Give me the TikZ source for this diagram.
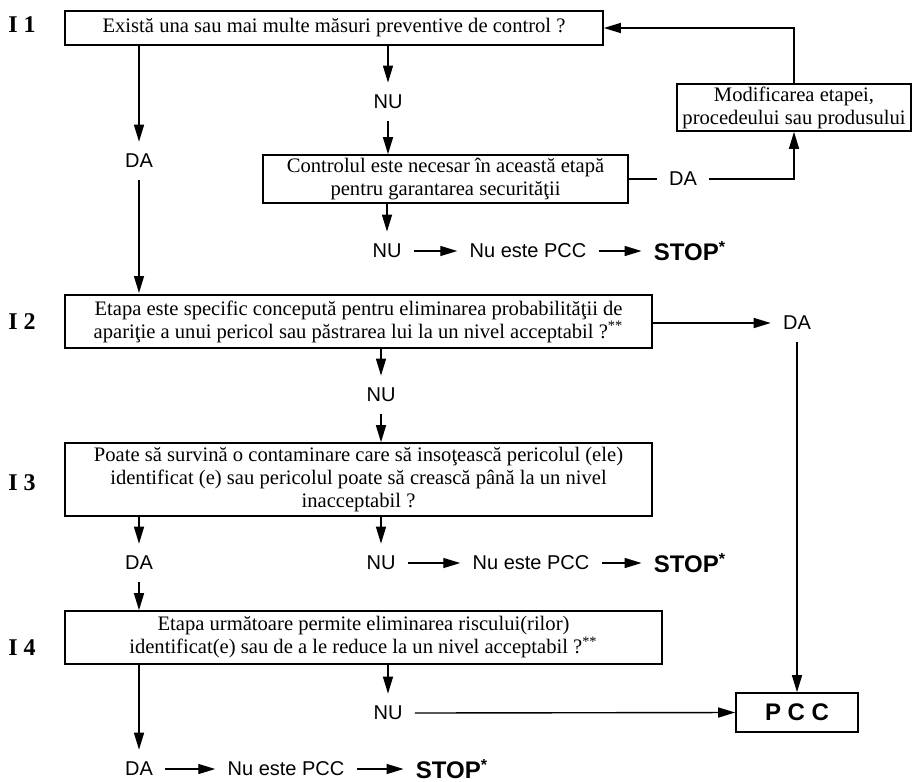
\documentclass[tikz,border=0pt]{standalone}
\usepackage{fontspec}
\setmainfont{Liberation Serif}
\setsansfont{Liberation Sans}
\usepackage{tikz}
\usetikzlibrary{arrows.meta,positioning,calc}

\begin{document}
\begin{tikzpicture}[x=0.5pt, y=-0.5pt,
    qbox/.style={draw, line width=0.8pt, fill=white, align=center, inner sep=1pt,
                 font=\fontsize{10.3}{11.5}\selectfont},
    lbl/.style={font=\sffamily\fontsize{10}{12}\selectfont, inner sep=6pt},
    stopl/.style={font=\sffamily\bfseries\fontsize{12}{14}\selectfont, inner sep=6pt},
    step label/.style={font=\bfseries\fontsize{12}{14}\selectfont},
    arr/.style={-{Triangle[length=8.5pt,width=5pt]}, line width=0.7pt},
    ln/.style={line width=0.7pt}]
    \useasboundingbox (0,0) rectangle (913,781);

    % Step labels
    \node[step label] (i1) at (22,25) {I 1};
    \node[step label] (i2) at (22,322) {I 2};
    \node[step label] (i3) at (22,483) {I 3};
    \node[step label] (i4) at (22,648) {I 4};

    % Question I1
    \node[qbox, minimum width=269pt, minimum height=17pt] (q1) at (334,28)
        {Există una sau mai multe măsuri preventive de control ?};
    \node[lbl] (da1) at (139,161) {DA};
    \node[lbl] (nu1) at (388,102) {NU};
    \node[qbox, minimum width=182.5pt, minimum height=24pt] (q1b) at (445.5,179)
        {Controlul este necesar în această etapă\\pentru garantarea securităţii};
    \node[qbox, minimum width=117pt, minimum height=23.5pt] (mod) at (794,107.5)
        {Modificarea etapei,\\procedeului sau produsului};
    \node[lbl] (da1b) at (683,179) {DA};
    \node[lbl] (nu1b) at (387,251) {NU};
    \node[lbl] (nep1) at (528,251) {Nu este PCC};
    \node[stopl] (stop1) at (690,251) {STOP\textsuperscript{*}};

    \draw[arr] (q1.south -| da1) -- (da1.north);
    \draw[arr] (da1.south) -- (da1.south |- 0,293);
    \draw[arr] (q1.south -| nu1) -- (nu1.north);
    \draw[arr] (nu1.south) -- (nu1.south |- q1b.north);
    \draw[ln] (q1b.east) -- (da1b.west);
    \draw[arr] (da1b.east) -| (mod.south);
    \draw[arr] (mod.north) |- (q1.east);
    \draw[arr] (q1b.south -| nu1b) -- (nu1b.north);
    \draw[arr] (nu1b) -- (nep1);
    \draw[arr] (nep1) -- (stop1);

    % Question I2
    \node[qbox, minimum width=293.5pt, minimum height=26.5pt] (q2) at (358.5,321.5)
        {Etapa este specific concepută pentru eliminarea probabilităţii de\\
         apariţie a unui pericol sau păstrarea lui la un nivel acceptabil ?\textsuperscript{**}};
    \node[lbl] (da2) at (797,323) {DA};
    \node[lbl] (nu2) at (381,395) {NU};

    \draw[arr] (q2.east |- da2) -- (da2.west);
    \draw[arr] (q2.south -| nu2) -- (nu2.north);

    % Question I3
    \node[qbox, minimum width=293.5pt, minimum height=36.5pt] (q3) at (358.5,479.5)
        {Poate să survină o contaminare care să insoţească pericolul (ele)\\
         identificat (e) sau pericolul poate să crească până la un nivel\\
         inacceptabil ?};
    \node[lbl] (da3) at (139,563) {DA};
    \node[lbl] (nu3) at (381,563) {NU};
    \node[lbl] (nep3) at (531,563) {Nu este PCC};
    \node[stopl] (stop3) at (690,563) {STOP\textsuperscript{*}};

    \draw[arr] (nu2.south) -- (nu2.south |- q3.north);
    \draw[arr] (q3.south -| da3) -- (da3.north);
    \draw[arr] (q3.south -| nu3) -- (nu3.north);
    \draw[arr] (nu3) -- (nep3);
    \draw[arr] (nep3) -- (stop3);

    % Question I4
    \node[qbox, minimum width=298.5pt, minimum height=26.5pt] (q4) at (363.5,637.5)
        {Etapa următoare permite eliminarea riscului(rilor)\\
         identificat(e) sau de a le reduce la un nivel acceptabil ?\textsuperscript{**}};
    \node[lbl] (nu4) at (388,713) {NU};
    \node[draw, line width=0.8pt, minimum width=61pt, minimum height=19.5pt,
          font=\sffamily\bfseries\fontsize{12}{14}\selectfont] (pcc) at (797,712.5) {P C C};
    \node[lbl] (da4) at (139,769) {DA};
    \node[lbl] (nep4) at (286,769) {Nu este PCC};
    \node[stopl] (stop4) at (452,769) {STOP\textsuperscript{*}};

    \draw[arr] (da3.south) -- (da3.south |- q4.north);
    \draw[arr] (q4.south -| nu4) -- (nu4.north);
    \draw[arr] (nu4.east) -- (pcc.west);
    \draw[arr] (da2.south) -- (pcc.north);
    \draw[arr] (q4.south -| da4) -- (da4.north);
    \draw[arr] (da4) -- (nep4);
    \draw[arr] (nep4) -- (stop4);

\end{tikzpicture}
\end{document}
